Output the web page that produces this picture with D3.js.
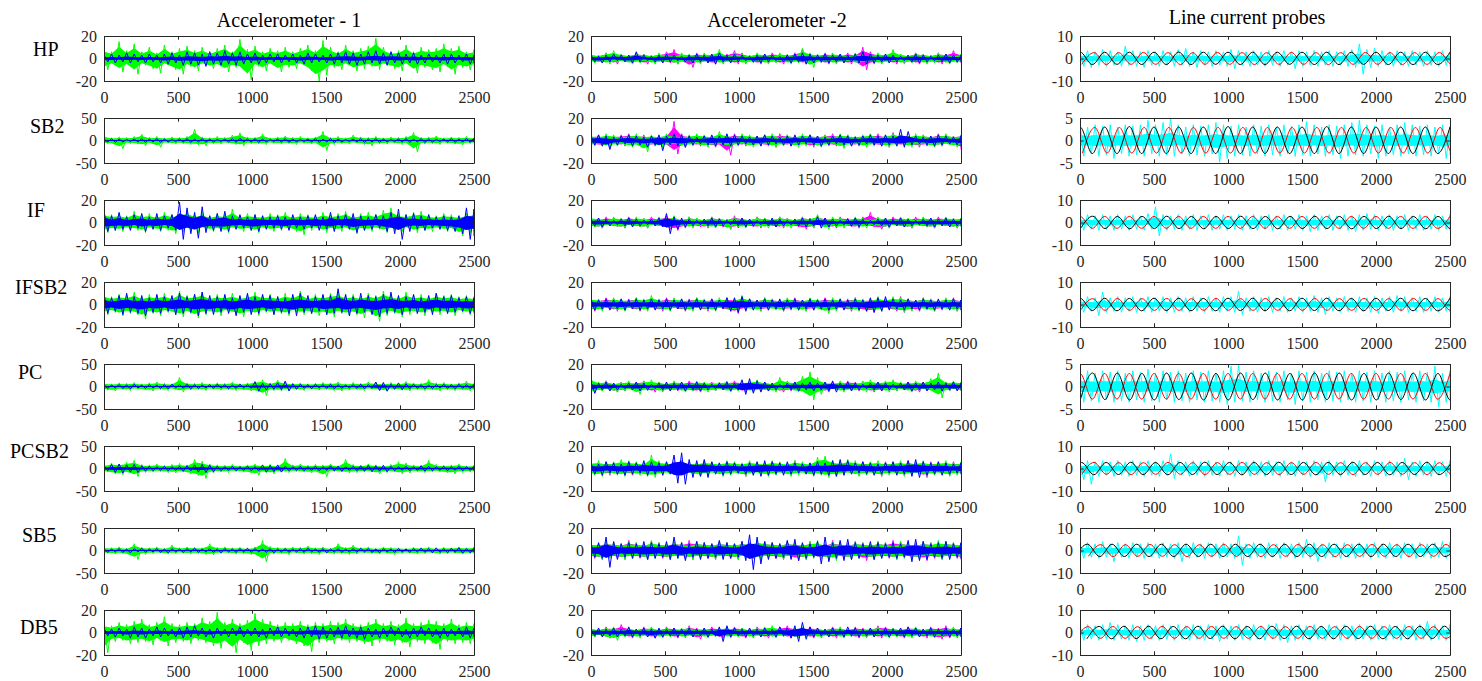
<!DOCTYPE html>
<html>
<head>
<meta charset="utf-8">
<script src="https://cdn.jsdelivr.net/npm/d3@7"></script>
<style>
body { margin: 0; background: #fff; }
svg { display: block; font-family: "Liberation Serif", "Times New Roman", serif; }
</style>
</head>
<body>
<svg width="1482" height="681"></svg>
<script>
// ---- labels and ticks
var rowNames = ["HP", "SB2", "IF", "IFSB2", "PC", "PCSB2", "SB5", "DB5"];
var colTitles = ["Accelerometer - 1", "Accelerometer -2", "Line current probes"];
var xTicks = [0, 500, 1000, 1500, 2000, 2500];
var yLimAcc1 = [20, 50, 20, 20, 50, 50, 50, 20];
var yLimAcc2 = [20, 20, 20, 20, 20, 20, 20, 20];
var yLimLine = [10, 5, 10, 10, 5, 10, 10, 10];

// ---- Accelerometer 1 : upper / lower envelope of each trace (50 bins over 2500 samples, magenta 25 bins)
var a1HPgHi = [9,6,15,7,13,6,10,5,12,6, 9,11,7,10,6,9,12,6,17,8, 11,6,9,7,10,6,9,12,7,16, 10,6,12,7,9,11,18,10,6,7, 12,6,10,8,9,13,9,11,6,8];
var a1HPgLo = [-10,-6,-12,-7,-14,-6,-9,-13,-6,-10, -14,-7,-11,-6,-9,-7,-12,-8,-10,-19, -7,-11,-6,-12,-8,-9,-6,-11,-20,-15, -8,-10,-6,-11,-9,-7,-10,-6,-9,-11, -6,-13,-8,-10,-12,-7,-14,-8,-10,-7];
var a1HPbHi = [3,4,3,5,4,3,4,3,4,5, 3,6,5,4,6,5,7,5,6,4, 5,3,4,4,3,4,3,5,4,3, 4,5,6,5,4,6,7,5,6,5, 4,5,3,4,3,4,4,3,4,3];
var a1HPbLo = [-3,-4,-3,-4,-3,-4,-3,-4,-5,-4, -6,-5,-6,-7,-5,-6,-5,-6,-5,-4, -5,-4,-3,-4,-3,-4,-5,-4,-3,-4, -5,-4,-5,-6,-5,-4,-5,-6,-4,-5, -4,-5,-4,-3,-4,-5,-4,-3,-5,-4];
var a1HPmHi = [1,2,1,2,1,1,2,1,2,1, 1,2,1,2,1,1,2,1,1,2, 1,2,1,1,2];
var a1HPmLo = [-1,-2,-1,-1,-2,-1,-2,-1,-1,-2, -1,-1,-2,-1,-1,-2,-1,-2,-1,-1, -2,-1,-1,-2,-1];

var a1SB2gHi = [12,6,8,7,9,14,7,9,6,8, 7,9,25,8,6,9,7,12,17,8, 7,15,6,8,10,7,9,6,8,20, 7,9,6,12,8,7,9,6,8,7, 9,18,7,8,10,6,8,7,9,6];
var a1SB2gLo = [-7,-9,-18,-7,-8,-12,-7,-15,-6,-8, -7,-9,-10,-12,-7,-8,-6,-9,-12,-7, -8,-9,-6,-8,-7,-9,-6,-8,-7,-22, -9,-7,-8,-6,-9,-12,-7,-8,-6,-9, -7,-25,-8,-7,-9,-6,-8,-10,-7,-6];
var a1SB2bHi = [3,4,3,2,3,4,3,4,3,2, 3,4,3,4,3,2,3,4,5,3, 4,3,2,3,4,3,2,3,4,3, 4,3,2,3,4,3,4,3,2,3, 4,3,4,3,2,3,4,3,4,5];
var a1SB2bLo = [-3,-4,-3,-2,-3,-4,-3,-4,-3,-2, -3,-4,-3,-4,-3,-2,-3,-4,-3,-3, -4,-3,-2,-3,-4,-3,-2,-3,-4,-3, -4,-3,-2,-3,-4,-3,-4,-3,-2,-3, -4,-3,-4,-3,-2,-3,-4,-3,-4,-3];
var a1SB2mHi = [2,1,2,2,1,2,1,2,2,1, 2,1,2,2,1,2,1,2,2,1, 2,1,2,1,2];
var a1SB2mLo = [-2,-1,-2,-1,-2,-2,-1,-2,-1,-2, -2,-1,-2,-1,-2,-2,-1,-2,-1,-2, -1,-2,-1,-2,-1];

var a1IFgHi = [9,7,8,6,10,7,8,6,9,7, 8,11,7,9,6,8,7,12,6,8, 7,6,8,7,9,6,8,7,6,9, 7,8,10,6,8,9,7,11,13,8, 7,9,10,7,6,8,7,6,8,9];
var a1IFgLo = [-9,-7,-8,-6,-7,-9,-6,-8,-7,-10, -8,-7,-9,-6,-8,-7,-9,-6,-8,-7, -9,-6,-8,-7,-6,-8,-11,-7,-6,-9, -7,-8,-6,-10,-7,-8,-6,-9,-7,-8, -6,-9,-7,-8,-6,-8,-7,-12,-9,-8];
var a1IFbHi = [10,6,9,5,7,8,5,8,6,7, 18,13,9,14,6,8,10,6,7,5, 7,6,5,6,5,7,5,6,7,5, 9,6,7,8,6,5,7,6,9,12, 7,8,6,7,5,6,5,6,13,12];
var a1IFbLo = [-8,-7,-6,-7,-5,-8,-6,-7,-5,-7, -15,-10,-14,-9,-7,-8,-8,-6,-5,-7, -8,-6,-5,-6,-7,-5,-6,-5,-7,-6, -8,-5,-6,-9,-7,-6,-5,-8,-10,-15, -8,-6,-7,-5,-6,-7,-8,-10,-15,-12];
var a1IFmHi = [1,2,1,1,2,1,2,1,1,2, 1,2,1,1,2,1,2,1,1,2, 1,1,2,1,2];
var a1IFmLo = [-1,-1,-2,-1,-2,-1,-1,-2,-1,-1, -2,-1,-2,-1,-1,-2,-1,-1,-2,-1, -2,-1,-1,-2,-1];

var a1IFSB2gHi = [10,7,9,8,11,7,9,8,10,7, 12,8,9,11,7,9,8,10,7,9, 11,8,9,7,10,8,12,7,9,8, 10,11,8,9,7,10,8,12,9,7, 11,8,9,7,10,8,9,7,8,7];
var a1IFSB2gLo = [-9,-7,-10,-8,-9,-13,-8,-10,-7,-9, -11,-8,-12,-9,-8,-10,-7,-9,-11,-8, -10,-7,-9,-8,-10,-7,-9,-8,-10,-9, -11,-8,-10,-9,-12,-8,-15,-10,-8,-11, -9,-8,-10,-7,-9,-8,-10,-7,-9,-8];
var a1IFSB2bHi = [9,6,8,10,7,8,6,9,7,8, 10,7,9,11,8,7,9,6,8,10, 7,9,8,7,6,9,10,8,7,9, 8,14,9,7,10,8,7,9,11,8, 7,9,6,8,10,7,8,6,7,6];
var a1IFSB2bLo = [-8,-6,-9,-7,-8,-10,-7,-8,-6,-9, -8,-7,-10,-8,-9,-7,-8,-10,-7,-9, -8,-6,-9,-7,-8,-10,-7,-8,-6,-9, -8,-7,-10,-8,-7,-9,-11,-8,-7,-9, -6,-8,-7,-9,-6,-8,-7,-6,-8,-7];
var a1IFSB2mHi = [2,1,2,1,1,2,1,2,2,1, 1,2,1,2,1,2,1,1,2,1, 2,1,2,1,2];
var a1IFSB2mLo = [-1,-2,-1,-2,-1,-1,-2,-1,-2,-1, -2,-1,-1,-2,-1,-2,-1,-2,-1,-1, -2,-1,-2,-1,-1];

var a1PCgHi = [9,6,8,7,9,6,8,10,7,6, 20,8,7,9,6,8,7,10,6,8, 12,15,8,14,9,7,8,6,7,9, 8,10,6,9,7,10,8,7,9,6, 11,8,7,15,8,9,6,8,12,7];
var a1PCgLo = [-8,-10,-7,-9,-6,-8,-10,-7,-9,-6, -12,-8,-7,-9,-6,-8,-7,-9,-8,-10, -12,-20,-9,-10,-8,-7,-9,-6,-8,-7, -9,-10,-8,-7,-9,-6,-8,-11,-7,-8, -10,-7,-9,-8,-10,-7,-9,-8,-10,-8];
var a1PCbHi = [4,3,4,3,5,3,4,3,4,5, 4,5,4,3,4,5,4,3,5,4, 10,7,6,8,12,6,5,4,5,4, 5,4,3,4,5,4,10,9,5,8, 6,5,4,3,4,5,4,5,4,5];
var a1PCbLo = [-4,-3,-4,-5,-3,-4,-3,-4,-5,-3, -4,-5,-4,-3,-4,-3,-5,-4,-3,-4, -10,-8,-6,-7,-10,-6,-4,-5,-3,-4, -5,-4,-3,-4,-5,-4,-9,-10,-6,-7, -5,-4,-5,-4,-3,-4,-5,-4,-5,-4];
var a1PCmHi = [2,1,2,2,1,2,1,2,1,2, 2,1,2,1,2,2,1,2,1,2, 1,2,2,1,2];
var a1PCmLo = [-2,-1,-2,-1,-2,-2,-1,-2,-2,-1, -2,-1,-2,-2,-1,-2,-1,-2,-2,-1, -2,-1,-2,-1,-2];

var a1PCSB2gHi = [9,12,10,14,18,9,8,10,7,9, 11,8,20,16,10,8,7,9,6,8, 10,7,9,6,22,8,10,7,9,8, 10,6,20,9,7,10,8,6,9,15, 12,8,7,18,9,7,8,10,6,7];
var a1PCSB2gLo = [-8,-12,-14,-10,-18,-9,-8,-7,-9,-10, -8,-12,-16,-22,-10,-8,-9,-7,-8,-10, -15,-9,-12,-8,-9,-7,-8,-10,-9,-18, -7,-8,-10,-9,-8,-7,-12,-9,-8,-12, -10,-7,-9,-8,-7,-10,-12,-9,-8,-7];
var a1PCSB2bHi = [6,9,10,8,9,6,5,4,5,4, 5,6,8,9,7,5,4,5,4,5, 4,8,7,8,5,4,5,4,5,4, 6,5,4,5,6,7,6,7,5,4, 5,4,6,5,4,5,4,5,4,5];
var a1PCSB2bLo = [-5,-9,-10,-8,-9,-6,-5,-4,-5,-4, -6,-5,-8,-9,-7,-5,-4,-5,-4,-5, -5,-8,-7,-8,-5,-4,-5,-4,-5,-4, -5,-6,-4,-5,-6,-7,-6,-7,-5,-4, -5,-4,-6,-5,-4,-5,-4,-5,-4,-5];
var a1PCSB2mHi = [2,1,2,1,2,2,1,2,1,2, 1,2,2,1,2,1,2,1,2,2, 1,2,1,2,1];
var a1PCSB2mLo = [-1,-2,-2,-1,-2,-1,-2,-2,-1,-2, -1,-2,-1,-2,-2,-1,-2,-1,-2,-1, -2,-2,-1,-2,-1];

var a1SB5gHi = [7,6,8,5,15,7,6,8,5,12, 6,8,7,6,15,7,8,6,7,5, 8,22,9,7,6,8,7,10,6,8, 5,15,7,12,6,8,5,8,7,6, 5,7,6,8,5,7,6,8,6,8];
var a1SB5gLo = [-6,-8,-7,-10,-20,-9,-7,-6,-8,-7, -6,-8,-7,-9,-10,-7,-6,-8,-7,-9, -12,-25,-8,-7,-9,-6,-8,-7,-9,-6, -8,-7,-9,-8,-6,-7,-8,-6,-9,-7, -6,-8,-7,-6,-8,-7,-6,-8,-7,-6];
var a1SB5bHi = [4,3,4,3,4,5,3,4,3,4, 3,4,5,3,4,3,4,3,4,5, 4,3,4,3,4,3,4,5,3,4, 3,4,3,4,5,4,3,4,3,4, 3,4,5,4,6,4,5,6,4,5];
var a1SB5bLo = [-4,-3,-4,-5,-3,-4,-3,-4,-5,-3, -4,-3,-4,-3,-4,-5,-3,-4,-3,-4, -3,-4,-5,-3,-4,-3,-4,-3,-4,-5, -3,-4,-3,-4,-3,-4,-5,-3,-4,-3, -4,-3,-4,-5,-4,-5,-4,-6,-5,-4];
var a1SB5mHi = [2,1,2,2,1,2,1,2,1,2, 2,1,2,1,2,1,2,2,1,2, 1,2,1,2,2];
var a1SB5mLo = [-2,-1,-2,-1,-2,-1,-2,-2,-1,-2, -1,-2,-1,-2,-2,-1,-2,-1,-2,-1, -2,-1,-2,-1,-2];

var a1DB5gHi = [8,6,9,7,10,12,7,9,14,8, 7,9,8,13,10,18,9,12,8,11, 17,12,10,7,9,8,10,7,9,8, 10,9,12,8,7,9,12,8,10,7, 13,8,9,11,10,8,12,7,9,8];
var a1DB5gLo = [-18,-8,-7,-10,-9,-8,-11,-7,-12,-9, -8,-10,-7,-9,-12,-14,-10,-18,-9,-16, -12,-10,-8,-9,-7,-10,-12,-17,-9,-8, -10,-7,-9,-8,-10,-12,-9,-8,-11,-9, -13,-8,-10,-9,-15,-8,-10,-9,-10,-8];
var a1DB5bHi = [4,3,4,3,5,4,3,5,4,3, 4,5,6,4,3,4,3,4,5,3, 4,3,4,5,4,3,4,5,6,5, 4,5,6,4,5,4,3,4,5,4, 3,4,5,4,3,4,3,4,5,4];
var a1DB5bLo = [-3,-4,-3,-5,-4,-5,-3,-4,-3,-4, -5,-4,-3,-4,-5,-3,-4,-3,-4,-3, -4,-5,-3,-4,-3,-4,-5,-4,-6,-5, -4,-5,-4,-5,-6,-4,-5,-4,-3,-4, -5,-4,-3,-4,-5,-4,-3,-4,-5,-4];
var a1DB5mHi = [1,2,1,2,1,2,2,1,2,1, 2,1,1,2,1,2,1,2,1,1, 2,1,2,1,2];
var a1DB5mLo = [-2,-1,-2,-1,-1,-2,-1,-2,-1,-2, -1,-1,-2,-1,-2,-1,-2,-1,-2,-1, -1,-2,-1,-2,-1];

// ---- Accelerometer 2 : envelopes (50 bins)
var a2HPmHi = [4,3,5,3,4,3,5,4,3,4, 6,8,4,3,5,4,3,5,4,7, 5,3,4,3,5,4,3,5,8,4, 3,5,4,3,5,4,10,6,4,3, 5,4,3,5,4,3,5,4,7,4];
var a2HPmLo = [-3,-4,-3,-5,-3,-4,-3,-5,-4,-3, -4,-5,-3,-8,-4,-3,-5,-4,-3,-5, -4,-3,-5,-4,-3,-5,-4,-3,-5,-4, -3,-5,-4,-3,-5,-4,-10,-5,-4,-3, -5,-4,-3,-5,-4,-3,-5,-4,-3,-4];
var a2HPgHi = [4,3,5,7,4,3,5,4,3,5, 4,3,5,4,3,5,4,8,3,5, 4,3,5,4,3,5,4,3,9,5, 4,3,5,4,3,5,4,3,5,4, 8,4,3,5,4,3,5,4,3,4];
var a2HPgLo = [-4,-3,-5,-4,-3,-5,-4,-3,-5,-4, -3,-5,-4,-3,-5,-4,-3,-5,-4,-3, -5,-4,-3,-5,-4,-3,-5,-4,-3,-8, -4,-3,-5,-4,-3,-5,-4,-3,-5,-4, -3,-5,-4,-3,-5,-4,-3,-5,-4,-3];
var a2HPbHi = [3,2,3,4,3,3,6,3,2,3, 4,3,2,3,4,3,4,5,3,4, 3,2,3,4,3,2,3,4,5,4, 3,4,3,4,3,4,6,4,3,4, 3,2,3,4,3,2,3,4,3,3];
var a2HPbLo = [-3,-4,-3,-2,-3,-4,-3,-2,-3,-4, -3,-2,-3,-4,-3,-4,-5,-3,-4,-3, -2,-3,-4,-3,-2,-3,-4,-3,-5,-4, -3,-4,-3,-4,-3,-4,-5,-4,-3,-4, -3,-2,-3,-4,-3,-2,-3,-4,-3,-3];

var a2SB2mHi = [4,5,3,4,5,6,4,5,3,4, 5,17,6,4,5,3,4,5,4,6, 5,4,3,5,4,6,5,4,3,5, 4,5,6,4,5,3,4,5,6,4, 7,5,4,3,5,4,6,5,4,5];
var a2SB2mLo = [-4,-5,-6,-4,-5,-3,-4,-6,-5,-4, -5,-12,-6,-4,-5,-4,-6,-5,-13,-4, -5,-3,-4,-5,-6,-4,-5,-3,-4,-6, -5,-4,-5,-6,-4,-5,-3,-4,-5,-6, -4,-5,-4,-6,-5,-4,-5,-3,-4,-8];
var a2SB2gHi = [5,4,6,5,4,5,6,4,5,4, 6,5,4,5,6,5,4,8,5,4, 6,5,4,5,6,4,5,4,6,5, 4,5,4,6,5,4,5,6,4,5, 6,5,4,6,5,4,5,6,4,5];
var a2SB2gLo = [-5,-4,-6,-5,-4,-6,-5,-10,-4,-6, -5,-4,-6,-5,-4,-6,-5,-4,-6,-5, -4,-6,-5,-4,-6,-5,-4,-6,-5,-4, -6,-5,-4,-7,-5,-4,-6,-5,-4,-6, -5,-4,-6,-5,-4,-6,-5,-4,-6,-5];
var a2SB2bHi = [4,5,4,3,4,5,4,3,4,5, 4,6,5,4,3,4,5,4,6,5, 4,3,4,5,4,3,4,5,4,5, 4,3,4,5,4,3,4,5,4,5, 4,10,8,4,3,4,5,4,3,4];
var a2SB2bLo = [-4,-5,-8,-4,-3,-5,-4,-6,-4,-9, -4,-5,-6,-4,-3,-4,-5,-4,-5,-4, -3,-4,-5,-4,-3,-4,-5,-4,-3,-4, -5,-4,-3,-4,-5,-4,-3,-4,-5,-4, -5,-6,-4,-3,-4,-5,-4,-3,-4,-5];

var a2IFmHi = [4,3,5,4,3,5,4,3,5,4, 6,4,3,5,4,3,5,4,3,6, 4,3,5,4,3,5,4,3,5,4, 6,4,3,5,4,3,5,9,4,3, 5,4,3,5,4,3,5,4,3,4];
var a2IFmLo = [-4,-5,-3,-4,-5,-3,-4,-5,-3,-4, -6,-7,-5,-3,-4,-5,-3,-4,-6,-5, -3,-4,-5,-3,-4,-5,-3,-4,-6,-5, -3,-4,-5,-3,-4,-5,-3,-4,-6,-5, -3,-4,-5,-3,-4,-5,-3,-4,-5,-3];
var a2IFgHi = [5,4,3,5,4,3,5,4,3,5, 4,6,3,5,4,3,5,4,3,5, 4,3,5,4,3,5,4,3,5,4, 7,3,5,4,3,5,4,3,5,4, 3,5,4,3,5,4,3,5,4,4];
var a2IFgLo = [-4,-5,-3,-4,-5,-3,-4,-5,-3,-4, -5,-3,-4,-5,-3,-4,-5,-3,-6,-4, -5,-3,-4,-5,-3,-4,-5,-3,-4,-5, -3,-6,-4,-5,-3,-4,-5,-3,-4,-5, -3,-4,-5,-3,-4,-5,-3,-4,-5,-4];
var a2IFbHi = [3,4,3,2,3,4,3,2,3,4, 8,5,4,3,2,3,4,3,2,3, 4,3,2,3,4,3,2,3,4,3, 5,4,3,2,3,4,3,2,3,4, 3,4,3,2,3,4,3,4,3,3];
var a2IFbLo = [-3,-4,-3,-2,-3,-4,-3,-2,-3,-4, -10,-6,-4,-3,-2,-3,-4,-3,-2,-3, -4,-3,-2,-3,-4,-3,-2,-3,-4,-3, -5,-4,-3,-2,-3,-4,-3,-2,-3,-4, -3,-4,-3,-2,-3,-4,-3,-4,-3,-3];

var a2IFSB2mHi = [5,4,6,5,4,5,6,4,5,4, 6,5,4,5,6,4,5,4,6,5, 7,5,4,6,5,4,5,6,4,5, 4,6,5,4,5,6,4,5,6,5, 4,7,5,4,6,5,4,5,6,4];
var a2IFSB2mLo = [-6,-5,-4,-6,-5,-4,-6,-5,-4,-6, -5,-4,-6,-5,-4,-6,-5,-4,-6,-8, -5,-4,-6,-5,-4,-6,-5,-4,-6,-5, -4,-6,-5,-4,-6,-5,-6,-7,-5,-4, -6,-7,-5,-6,-4,-6,-5,-4,-6,-5];
var a2IFSB2gHi = [6,5,4,6,5,4,6,5,8,5, 4,6,5,4,6,5,4,6,5,4, 8,5,4,6,5,4,6,5,4,6, 5,4,6,5,4,6,5,4,7,5, 7,6,5,4,6,5,4,6,5,4];
var a2IFSB2gLo = [-5,-6,-4,-5,-6,-4,-5,-6,-4,-5, -6,-4,-5,-6,-4,-5,-6,-4,-5,-6, -4,-5,-6,-4,-5,-6,-4,-5,-6,-4, -5,-8,-6,-4,-5,-6,-4,-5,-6,-4, -5,-7,-6,-4,-5,-6,-4,-5,-6,-5];
var a2IFSB2bHi = [5,4,5,4,5,4,5,4,5,4, 5,4,5,4,5,4,5,4,6,6, 7,5,4,5,4,5,4,5,4,5, 4,5,4,5,4,5,4,6,6,7, 5,4,5,4,5,4,5,4,5,4];
var a2IFSB2bLo = [-5,-4,-5,-4,-5,-4,-5,-4,-5,-4, -5,-4,-5,-4,-5,-4,-5,-4,-6,-7, -6,-5,-4,-5,-4,-5,-4,-5,-4,-5, -4,-5,-4,-5,-4,-5,-6,-7,-6,-5, -4,-5,-4,-5,-4,-5,-4,-5,-4,-5];

var a2PCmHi = [4,3,5,3,4,3,4,5,3,4, 3,4,3,5,4,3,4,3,4,5, 4,3,5,4,3,4,3,4,5,3, 4,3,4,3,5,4,3,4,3,4, 5,3,4,3,4,3,5,4,3,4];
var a2PCmLo = [-3,-4,-3,-5,-4,-3,-4,-3,-5,-4, -3,-4,-3,-4,-5,-3,-4,-3,-4,-3, -5,-4,-3,-4,-3,-5,-4,-3,-4,-3, -4,-5,-3,-4,-3,-4,-3,-5,-4,-3, -4,-3,-4,-5,-3,-4,-3,-4,-3,-4];
var a2PCgHi = [8,4,5,3,4,5,3,5,6,4, 3,5,4,3,5,4,3,4,5,3, 4,5,6,4,3,8,5,4,9,13, 8,4,3,5,4,3,5,6,4,5, 6,4,3,5,4,7,12,4,5,4];
var a2PCgLo = [-6,-4,-3,-5,-4,-3,-7,-4,-3,-5, -4,-3,-5,-4,-3,-5,-4,-3,-5,-4, -3,-5,-4,-3,-5,-4,-3,-5,-6,-12, -7,-4,-3,-5,-4,-3,-5,-4,-3,-5, -4,-3,-5,-4,-3,-5,-10,-4,-3,-4];
var a2PCbHi = [4,3,4,3,2,3,4,3,2,3, 4,3,4,3,4,3,2,3,4,3, 6,7,5,4,3,2,3,4,3,4, 3,4,5,3,4,3,2,3,4,3, 2,3,4,3,4,3,4,3,4,3];
var a2PCbLo = [-6,-3,-4,-3,-2,-3,-4,-3,-2,-3, -4,-3,-4,-3,-4,-3,-2,-3,-4,-3, -7,-6,-5,-4,-3,-2,-3,-4,-3,-4, -3,-4,-5,-3,-4,-3,-2,-3,-4,-3, -2,-3,-4,-3,-4,-3,-4,-3,-4,-3];

var a2PCSB2mHi = [5,4,6,5,4,6,5,4,7,5, 4,6,7,5,4,6,5,4,6,5, 4,6,5,4,6,5,4,7,5,4, 6,5,4,6,5,4,6,5,4,6, 5,4,7,5,4,6,5,4,6,5];
var a2PCSB2mLo = [-5,-4,-6,-5,-4,-6,-5,-4,-6,-5, -4,-6,-5,-4,-6,-5,-4,-6,-5,-4, -7,-5,-4,-6,-5,-4,-6,-5,-4,-6, -5,-4,-6,-5,-4,-6,-5,-4,-7,-5, -4,-6,-5,-4,-8,-5,-4,-6,-5,-4];
var a2PCSB2gHi = [6,7,5,6,8,7,6,5,12,7, 6,5,7,6,5,7,6,5,7,6, 5,7,6,5,7,6,5,7,6,5, 10,11,7,6,8,7,5,6,7,5, 6,7,5,6,7,5,6,7,5,6];
var a2PCSB2gLo = [-6,-7,-5,-6,-7,-5,-6,-7,-8,-6, -5,-7,-6,-5,-7,-6,-5,-7,-6,-5, -7,-6,-5,-7,-6,-5,-7,-6,-5,-7, -6,-8,-7,-6,-5,-7,-6,-5,-7,-6, -5,-7,-6,-5,-7,-6,-5,-7,-6,-5];
var a2PCSB2bHi = [5,4,6,5,4,6,5,7,6,5, 6,12,14,8,7,8,6,5,6,5, 4,5,6,7,6,5,6,5,4,5, 6,5,7,8,7,5,6,5,4,5, 6,5,7,8,6,5,6,5,4,5];
var a2PCSB2bLo = [-5,-6,-4,-5,-6,-5,-4,-6,-5,-6, -5,-13,-14,-8,-7,-8,-5,-6,-5,-4, -5,-6,-7,-6,-5,-6,-5,-4,-5,-6, -5,-6,-7,-6,-5,-4,-5,-6,-5,-4, -6,-5,-7,-8,-6,-5,-6,-5,-4,-5];

var a2SB5mHi = [7,6,8,7,6,9,7,6,8,7, 6,8,7,9,8,7,6,8,7,6, 8,7,6,8,7,6,8,7,6,8, 7,6,9,7,6,8,7,6,8,7, 9,8,7,6,8,7,6,8,7,6];
var a2SB5mLo = [-7,-8,-6,-7,-8,-6,-7,-8,-6,-7, -8,-6,-7,-8,-6,-7,-8,-6,-7,-8, -6,-7,-8,-6,-7,-8,-6,-9,-8,-6, -7,-8,-6,-7,-8,-6,-9,-8,-6,-7, -8,-6,-7,-8,-9,-7,-8,-6,-7,-8];
var a2SB5gHi = [7,6,8,7,6,8,7,6,9,7, 6,8,7,6,8,7,6,8,7,6, 8,7,10,8,7,6,8,7,6,8, 9,6,8,7,6,8,7,6,8,7, 6,8,7,6,8,7,9,8,7,6];
var a2SB5gLo = [-6,-8,-7,-6,-8,-7,-6,-8,-7,-6, -8,-7,-6,-8,-7,-6,-8,-7,-6,-8, -7,-6,-8,-7,-6,-8,-7,-6,-8,-7, -6,-8,-9,-6,-8,-7,-6,-8,-7,-6, -8,-7,-6,-8,-7,-6,-8,-7,-6,-7];
var a2SB5bHi = [6,7,12,8,6,7,6,8,7,6, 8,12,7,6,8,7,6,9,7,6, 8,14,12,8,7,6,9,10,7,6, 8,12,7,9,10,7,6,8,7,6, 7,6,9,10,8,6,7,8,6,7];
var a2SB5bLo = [-6,-7,-15,-8,-6,-7,-6,-8,-7,-6, -8,-7,-9,-6,-8,-7,-6,-8,-7,-6, -9,-17,-12,-8,-7,-6,-8,-9,-7,-6, -12,-10,-7,-9,-8,-7,-6,-8,-7,-6, -7,-6,-10,-9,-8,-6,-7,-8,-6,-7];

var a2DB5mHi = [4,3,5,4,7,4,3,5,4,3, 5,4,3,6,4,3,5,4,3,5, 4,3,5,4,3,5,6,4,3,5, 4,3,5,4,3,5,4,3,6,5, 4,3,5,4,3,5,4,6,3,4];
var a2DB5mLo = [-4,-3,-5,-4,-3,-5,-4,-3,-5,-4, -3,-5,-4,-3,-6,-4,-3,-5,-4,-3, -5,-4,-3,-5,-4,-3,-5,-4,-3,-5, -4,-3,-5,-4,-3,-5,-4,-3,-5,-4, -3,-5,-4,-3,-5,-4,-6,-5,-4,-3];
var a2DB5gHi = [4,3,4,5,3,4,3,4,5,3, 4,3,4,5,3,4,3,4,5,3, 4,3,4,5,6,4,3,4,5,3, 4,3,4,5,3,4,3,4,5,3, 4,3,4,5,3,4,3,4,5,3];
var a2DB5gLo = [-4,-3,-5,-7,-4,-3,-5,-4,-3,-5, -4,-3,-5,-4,-3,-5,-4,-3,-5,-4, -3,-5,-4,-3,-5,-4,-3,-5,-4,-3, -5,-4,-3,-5,-4,-3,-5,-4,-3,-5, -4,-3,-5,-4,-3,-5,-4,-3,-5,-4];
var a2DB5bHi = [3,4,3,4,3,5,3,4,3,4, 3,4,3,4,3,4,3,5,6,4, 3,4,3,4,3,5,4,6,9,5, 4,3,4,3,5,4,3,4,3,4, 3,4,5,4,3,4,3,4,3,4];
var a2DB5bLo = [-3,-4,-3,-4,-3,-4,-3,-4,-5,-4, -3,-4,-3,-4,-3,-4,-3,-8,-4,-3, -4,-3,-4,-3,-4,-3,-5,-8,-6,-4, -3,-4,-3,-4,-3,-4,-3,-4,-3,-4, -3,-4,-3,-4,-3,-4,-3,-4,-3,-4];

// ---- Line current probes : noisy cyan phase, envelope (50 bins)
var lcHPcHi = [3,3.5,3,4,3.5,3,5.5,3.5,3,3.5, 3,3.5,3,4,4.5,3,3.5,3,3.5,3, 4,3.5,3,3.5,3,3.5,3,3.5,3,3.5, 3,3.5,3,3.5,3,3.5,4,6.5,4,4.5, 3.5,3,3.5,3,3.5,3,3.5,3,3.5,3];
var lcHPcLo = [-3.5,-4,-3,-3.5,-3,-3.5,-3,-3.5,-4,-3, -3.5,-3,-3.5,-3,-3.5,-4,-3,-3.5,-3,-3.5, -4.5,-3,-3.5,-3,-3.5,-3,-3.5,-3,-4.5,-3.5, -3,-3.5,-3,-3.5,-3,-3.5,-4,-7,-4,-3.5, -3,-3.5,-3,-3.5,-3,-3.5,-3,-3.5,-3,-3.5];
var lcSB2cHi = [3.5,3,3.5,3.2,3.5,3,3.5,3.2,3.5,4.5, 3.5,4,5,3.5,3,3.5,3.2,3.5,4,3.5, 3.2,3.5,3,3.5,3.2,3.5,3,3.5,3.2,3.5, 4.2,3.5,3,3.5,3.2,3.5,4,4.5,3.5,3.2, 3.5,3,3.5,4,3.5,3.2,3.5,3,3.5,3.2];
var lcSB2cLo = [-3.5,-3,-3.5,-3.2,-4,-3,-3.5,-3.2,-3.5,-3, -3.5,-3.2,-3.5,-3,-3.5,-3.2,-3.5,-3,-4.8,-4, -3.5,-3.2,-3.5,-3,-3.5,-3.2,-3.5,-3,-3.5,-3.2, -3.5,-3,-3.5,-3.2,-4,-3.5,-3.2,-3.5,-3,-4, -3.5,-3.2,-3.5,-3,-3.5,-3.2,-3.5,-3,-4,-3.2];
var lcIFcHi = [3,3.5,3,3.5,3,3.5,3,3.5,3,4, 7,3.5,3,3.5,3,3.5,3,3.5,3,3.5, 3,3.5,3,3.5,3,3.5,3,3.5,3,3.5, 3,3.5,3,3.5,3,3.5,3,3.5,4,3.5, 3,3.5,3,3.5,3,3.5,3,3.5,3,3.5];
var lcIFcLo = [-3.5,-3,-3.5,-3,-3.5,-3,-3.5,-3,-3.5,-3, -6,-3.5,-3,-3.5,-3,-3.5,-3,-3.5,-3,-3.5, -3,-3.5,-3,-3.5,-3,-3.5,-3,-3.5,-3,-3.5, -4,-3.5,-3,-3.5,-3,-3.5,-4,-3.5,-3,-3.5, -3,-3.5,-3,-3.5,-3,-3.5,-3,-3.5,-3,-3.5];
var lcIFSB2cHi = [3,3.5,3,5.5,3,3.5,3,3.5,3,3.5, 3,3.5,3,3.5,3,3.5,3,3.5,3,3.5, 3.5,6,3,3.5,3,3.5,3,3.5,3,3.5, 3,4,3,3.5,3,3.5,3,3.5,3,3.5, 3,3.5,4,3.5,3,3.5,3,3.5,3,3.5];
var lcIFSB2cLo = [-3.5,-3,-5,-3.5,-3,-3.5,-3,-3.5,-3,-3.5, -3,-3.5,-3.5,-3,-3.5,-3,-3.5,-3,-3.5,-3, -3.5,-4.5,-3,-3.5,-3,-3.5,-3,-3.5,-3,-3.5, -3,-3.5,-4.5,-3,-3.5,-3,-3.5,-3,-3.5,-4, -3,-3.5,-3,-3.5,-3,-3.5,-3,-3.5,-3,-3.5];
var lcPCcHi = [3.2,3.5,3,3.5,3.2,3.5,3,3.5,3.2,3.8, 3,3.5,3.2,3.5,3,3.5,3.2,3.5,3,3.5, 4.5,4.8,3.2,3.5,3,3.5,3.2,3.5,3,3.5, 3.2,3.5,3,3.5,3.2,3.5,3,3.5,3.2,3.5, 3,3.5,3.2,3.5,3,3.5,3.2,4.5,3,3.5];
var lcPCcLo = [-3.5,-3.2,-3.5,-3,-3.5,-3.2,-3.5,-3,-3.5,-3.2, -3.5,-3,-3.5,-3.2,-3.5,-3,-3.5,-3.2,-3.5,-4, -3.5,-3.2,-3.5,-3,-3.5,-3.2,-3.5,-3,-4,-3.2, -3.5,-3,-3.5,-3.2,-3.5,-3,-3.5,-3.2,-3.5,-3, -3.5,-3.2,-3.5,-3,-3.5,-3.2,-3.5,-4.5,-3.5,-3.2];
var lcPCSB2cHi = [3,3.5,3,3.5,3,3.5,3,3.5,3,3.5, 3,3.5,6.5,3.5,3,3.5,3,3.5,3,3.5, 3,3.5,3,3.5,3,3.5,3,3.5,3,3.5, 3,3.5,3,3.5,3,3.5,3,3.5,3,3.5, 3,3.5,3,4.5,3,3.5,3,3.5,3,3.5];
var lcPCSB2cLo = [-5,-7,-3.5,-3,-3.5,-3,-3.5,-3,-3.5,-3, -3.5,-3,-4.5,-3,-3.5,-3,-3.5,-3,-3.5,-3, -3.5,-3,-3.5,-3,-3.5,-3,-3.5,-3,-3.5,-3, -3.5,-3,-6,-3,-3.5,-3,-3.5,-3,-3.5,-3, -3.5,-3,-3.5,-5,-3.5,-3,-3.5,-3,-3.5,-3];
var lcSB5cHi = [3,3.5,3,4,3,3.5,3,3.5,3,3.5, 3,3.5,3,3.5,3,3.5,3,3.5,3,3.5, 3,6.5,3,3.5,3,3.5,3,3.5,3,3.5, 5,3.5,3,3.5,3,3.5,3,3.5,3,3.5, 3,3.5,3,3.5,3,3.5,3,3.5,4,3.5];
var lcSB5cLo = [-3.5,-3,-3.5,-3,-5,-3,-3.5,-3,-3.5,-3, -3.5,-3,-3.5,-5,-3.5,-3,-3.5,-3,-3.5,-3, -3.5,-6.5,-3.5,-3,-3.5,-3,-3.5,-3,-3.5,-3, -3.5,-5,-3.5,-3,-3.5,-3,-3.5,-3,-3.5,-3, -3.5,-3,-3.5,-3,-3.5,-3,-3.5,-3,-3.5,-3];
var lcDB5cHi = [3,3.5,3,3.5,4.5,3.5,3,3.5,3,3.5, 3,3.5,3,3.5,3,3.5,3,3.5,3,3.5, 3,3.5,3,3.5,3,3.5,4,3.5,3,3.5, 3,3.5,3,3.5,3,3.5,3,3.5,3,3.5, 3,3.5,3,3.5,3,3.5,5,3.5,3,3.5];
var lcDB5cLo = [-3.5,-3,-3.5,-3,-3.5,-3,-3.5,-4,-3.5,-3, -3.5,-3,-3.5,-3,-3.5,-3,-3.5,-3,-4,-3, -3.5,-3,-3.5,-3,-3.5,-3,-3.5,-4.5,-3.5,-3, -3.5,-3,-3.5,-3,-3.5,-3,-3.5,-3,-3.5,-3, -3.5,-3,-3.5,-3,-3.5,-3,-3.5,-3,-3.5,-3];

// ---- Line current probes : successive half-cycle extremes of the two clean phases (15 cycles in 2500 samples)
var blackFirstPeak = [0, 0, 86, 0, 85, 10, 50, 130];
var redFirstPeak = [95, 100, 0, 86, 0, 95, 140, 55];

var lcHPk = [-2.7,2.9,-2.7,2.8,-2.6,2.8,-2.7,2.8,-2.7,2.9, -2.7,2.8,-2.6,2.8,-2.7,2.8,-2.7,2.8,-2.6,2.8, -2.7,2.8,-2.7,2.8,-2.6,2.8,-2.7,2.8,-2.7,2.8, -2.7,2.8];
var lcHPr = [-2.6,2.6,-2.7,2.6,-2.6,2.7,-2.6,2.6,-2.7,2.6, -2.6,2.7,-2.6,2.6,-2.7,2.6,-2.6,2.7,-2.6,2.6, -2.7,2.6,-2.6,2.7,-2.6,2.6,-2.7,2.6,-2.6,2.7, -2.6,2.6];
var lcSB2k = [-2.9,3.0,-2.9,3.0,-2.9,3.1,-2.9,3.0,-2.9,3.0, -2.9,3.0,-2.9,3.1,-2.9,3.0,-2.9,3.0,-2.9,3.0, -2.9,3.1,-2.9,3.0,-2.9,3.0,-2.9,3.0,-2.9,3.0, -2.9,3.0];
var lcSB2r = [-2.8,2.9,-2.8,2.9,-2.8,2.9,-2.8,2.9,-2.8,2.9, -2.8,2.9,-2.8,2.9,-2.8,2.9,-2.8,2.9,-2.8,2.9, -2.8,2.9,-2.8,2.9,-2.8,2.9,-2.8,2.9,-2.8,2.9, -2.8,2.9];
var lcIFk = [-2.7,2.8,-2.7,2.7,-2.8,2.7,-2.7,2.8,-2.7,2.7, -2.8,2.7,-2.7,2.8,-2.7,2.7,-2.8,2.7,-2.7,2.8, -2.7,2.7,-2.8,2.7,-2.7,2.8,-2.7,2.7,-2.8,2.7, -2.7,2.8];
var lcIFr = [-2.6,2.7,-2.6,2.7,-2.6,2.7,-2.6,2.7,-2.6,2.7, -2.6,2.7,-2.6,2.7,-2.6,2.7,-2.6,2.7,-2.6,2.7, -2.6,2.7,-2.6,2.7,-2.6,2.7,-2.6,2.7,-2.6,2.7, -2.6,2.7];
var lcIFSB2k = [-2.8,2.8,-2.7,2.8,-2.8,2.7,-2.8,2.8,-2.7,2.8, -2.8,2.7,-2.8,2.8,-2.7,2.8,-2.8,2.7,-2.8,2.8, -2.7,2.8,-2.8,2.7,-2.8,2.8,-2.7,2.8,-2.8,2.7, -2.8,2.8];
var lcIFSB2r = [-2.6,2.6,-2.6,2.7,-2.6,2.6,-2.6,2.7,-2.6,2.6, -2.6,2.7,-2.6,2.6,-2.6,2.7,-2.6,2.6,-2.6,2.7, -2.6,2.6,-2.6,2.7,-2.6,2.6,-2.6,2.7,-2.6,2.6, -2.6,2.7];
var lcPCk = [-3.0,3.0,-2.9,3.0,-3.0,2.9,-3.0,3.0,-2.9,3.0, -3.0,2.9,-3.0,3.0,-2.9,3.0,-3.0,2.9,-3.0,3.0, -2.9,3.0,-3.0,2.9,-3.0,3.0,-2.9,3.0,-3.0,2.9, -3.0,3.0];
var lcPCr = [-2.8,2.9,-2.8,2.9,-2.8,2.9,-2.8,2.9,-2.8,2.9, -2.8,2.9,-2.8,2.9,-2.8,2.9,-2.8,2.9,-2.8,2.9, -2.8,2.9,-2.8,2.9,-2.8,2.9,-2.8,2.9,-2.8,2.9, -2.8,2.9];
var lcPCSB2k = [-2.7,2.7,-2.8,2.7,-2.7,2.8,-2.7,2.7,-2.8,2.7, -2.7,2.8,-2.7,2.7,-2.8,2.7,-2.7,2.8,-2.7,2.7, -2.8,2.7,-2.7,2.8,-2.7,2.7,-2.8,2.7,-2.7,2.8, -2.7,2.7];
var lcPCSB2r = [-2.6,2.7,-2.6,2.6,-2.7,2.6,-2.6,2.7,-2.6,2.6, -2.7,2.6,-2.6,2.7,-2.6,2.6,-2.7,2.6,-2.6,2.7, -2.6,2.6,-2.7,2.6,-2.6,2.7,-2.6,2.6,-2.7,2.6, -2.6,2.7];
var lcSB5k = [-2.7,2.8,-2.7,2.8,-2.7,2.8,-2.7,2.8,-2.7,2.8, -2.7,2.8,-2.7,2.8,-2.7,2.8,-2.7,2.8,-2.7,2.8, -2.7,2.8,-2.7,2.8,-2.7,2.8,-2.7,2.8,-2.7,2.8, -2.7,2.8];
var lcSB5r = [-2.6,2.6,-2.7,2.6,-2.6,2.7,-2.6,2.6,-2.7,2.6, -2.6,2.7,-2.6,2.6,-2.7,2.6,-2.6,2.7,-2.6,2.6, -2.7,2.6,-2.6,2.7,-2.6,2.6,-2.7,2.6,-2.6,2.7, -2.6,2.6];
var lcDB5k = [-2.8,2.7,-2.8,2.8,-2.7,2.8,-2.8,2.7,-2.8,2.8, -2.7,2.8,-2.8,2.7,-2.8,2.8,-2.7,2.8,-2.8,2.7, -2.8,2.8,-2.7,2.8,-2.8,2.7,-2.8,2.8,-2.7,2.8, -2.8,2.7];
var lcDB5r = [-2.6,2.6,-2.6,2.7,-2.6,2.6,-2.6,2.7,-2.6,2.6, -2.6,2.7,-2.6,2.6,-2.6,2.7,-2.6,2.6,-2.6,2.7, -2.6,2.6,-2.6,2.7,-2.6,2.6,-2.6,2.7,-2.6,2.6, -2.6,2.7];

// ---- tables for drawing
var acc1 = [
  [[a1HPmHi,a1HPmLo],[a1HPgHi,a1HPgLo],[a1HPbHi,a1HPbLo]],
  [[a1SB2mHi,a1SB2mLo],[a1SB2gHi,a1SB2gLo],[a1SB2bHi,a1SB2bLo]],
  [[a1IFmHi,a1IFmLo],[a1IFgHi,a1IFgLo],[a1IFbHi,a1IFbLo]],
  [[a1IFSB2mHi,a1IFSB2mLo],[a1IFSB2gHi,a1IFSB2gLo],[a1IFSB2bHi,a1IFSB2bLo]],
  [[a1PCmHi,a1PCmLo],[a1PCgHi,a1PCgLo],[a1PCbHi,a1PCbLo]],
  [[a1PCSB2mHi,a1PCSB2mLo],[a1PCSB2gHi,a1PCSB2gLo],[a1PCSB2bHi,a1PCSB2bLo]],
  [[a1SB5mHi,a1SB5mLo],[a1SB5gHi,a1SB5gLo],[a1SB5bHi,a1SB5bLo]],
  [[a1DB5mHi,a1DB5mLo],[a1DB5gHi,a1DB5gLo],[a1DB5bHi,a1DB5bLo]]
];
var acc2 = [
  [[a2HPmHi,a2HPmLo],[a2HPgHi,a2HPgLo],[a2HPbHi,a2HPbLo]],
  [[a2SB2mHi,a2SB2mLo],[a2SB2gHi,a2SB2gLo],[a2SB2bHi,a2SB2bLo]],
  [[a2IFmHi,a2IFmLo],[a2IFgHi,a2IFgLo],[a2IFbHi,a2IFbLo]],
  [[a2IFSB2mHi,a2IFSB2mLo],[a2IFSB2gHi,a2IFSB2gLo],[a2IFSB2bHi,a2IFSB2bLo]],
  [[a2PCmHi,a2PCmLo],[a2PCgHi,a2PCgLo],[a2PCbHi,a2PCbLo]],
  [[a2PCSB2mHi,a2PCSB2mLo],[a2PCSB2gHi,a2PCSB2gLo],[a2PCSB2bHi,a2PCSB2bLo]],
  [[a2SB5mHi,a2SB5mLo],[a2SB5gHi,a2SB5gLo],[a2SB5bHi,a2SB5bLo]],
  [[a2DB5mHi,a2DB5mLo],[a2DB5gHi,a2DB5gLo],[a2DB5bHi,a2DB5bLo]]
];
var lines = [
  {c: [lcHPcHi, lcHPcLo], r: lcHPr, k: lcHPk},
  {c: [lcSB2cHi, lcSB2cLo], r: lcSB2r, k: lcSB2k},
  {c: [lcIFcHi, lcIFcLo], r: lcIFr, k: lcIFk},
  {c: [lcIFSB2cHi, lcIFSB2cLo], r: lcIFSB2r, k: lcIFSB2k},
  {c: [lcPCcHi, lcPCcLo], r: lcPCr, k: lcPCk},
  {c: [lcPCSB2cHi, lcPCSB2cLo], r: lcPCSB2r, k: lcPCSB2k},
  {c: [lcSB5cHi, lcSB5cLo], r: lcSB5r, k: lcSB5k},
  {c: [lcDB5cHi, lcDB5cLo], r: lcDB5r, k: lcDB5k}
];

// ---- layout and style
var svg = d3.select("svg");
var colX = [104, 591, 1080];
var plotW = 370, plotH = 45, tick = 3.7;
var rowTop = rowNames.map(function(d, i) { return 36 + 82 * i; });
var labelX = [33, 30, 27, 15, 18, 10, 22, 20];
var labelDy = [20, 15, 17, 12, 15, 12, 14, 24];
var titleX = [289, 777, 1247], titleY = [27, 27, 24];
var seriesColors = ["#ff00ff", "#00ff00", "#0000ff"];
// share of each envelope drawn as a solid core (magenta, green, blue)
var coreAcc1 = [0.6, 0.7, 0.3];
var coreAcc1BlueByRow = [0.35, 0.3, 0.45, 0.45, 0.3, 0.35, 0.3, 0.35];
var coreAcc2 = [0.7, 0.7, 0.45];
var coreCyan = 0.35;
var nSamples = 2500, halfCycle = 2500 / 30;

var x = d3.scaleLinear().domain([0, nSamples]).range([0, plotW]);

colTitles.forEach(function(t, i) {
  svg.append("text").attr("x", titleX[i]).attr("y", titleY[i])
    .attr("text-anchor", "middle").attr("font-size", 20).attr("fill", "#000").text(t);
});

rowNames.forEach(function(name, i) {
  svg.append("text").attr("x", labelX[i]).attr("y", rowTop[i] + labelDy[i])
    .attr("font-size", 20).attr("fill", "#000").text(name);
});

function panel(col, row, lim) {
  var g = svg.append("g").attr("transform", "translate(" + colX[col] + "," + rowTop[row] + ")");
  var y = d3.scaleLinear().domain([-lim, lim]).range([plotH, 0]);
  var id = "clip" + col + "_" + row;
  g.append("clipPath").attr("id", id).append("rect")
    .attr("x", 0.5).attr("y", 0.5).attr("width", plotW).attr("height", plotH);
  var data = g.append("g").attr("clip-path", "url(#" + id + ")");
  return {g: g, y: y, data: data};
}

// dense noisy trace: solid core plus a zigzag between each bin's max and min
function noise(p, hi, lo, color, share) {
  var step = nSamples / (hi.length - 1);
  if (share > 0) {
    var core = hi.map(function(h, i) { return [i * step, h * share, lo[i] * share]; });
    p.data.append("path").datum(core)
      .attr("d", d3.area().x(function(d) { return x(d[0]); })
        .y0(function(d) { return p.y(d[2]); }).y1(function(d) { return p.y(d[1]); }))
      .attr("fill", color);
  }
  var zig = [];
  hi.forEach(function(h, i) {
    zig.push([i * step, h]);
    zig.push([Math.min(i * step + step / 2, nSamples), lo[i]]);
  });
  p.data.append("path").datum(zig)
    .attr("d", d3.line().x(function(d) { return x(d[0]); }).y(function(d) { return p.y(d[1]); }))
    .attr("fill", "none").attr("stroke", color).attr("stroke-width", 1);
}

function wave(p, vals, firstPeak, color) {
  var pts = vals.map(function(v, i) { return [firstPeak - halfCycle + i * halfCycle, v]; });
  p.data.append("path").datum(pts)
    .attr("d", d3.line().x(function(d) { return x(d[0]); }).y(function(d) { return p.y(d[1]); })
      .curve(d3.curveMonotoneX))
    .attr("fill", "none").attr("stroke", color).attr("stroke-width", 1);
}

function frame(p, lim) {
  var ax = p.g.append("g");
  ax.append("g").attr("transform", "translate(0," + plotH + ")")
    .call(d3.axisBottom(x).tickValues(xTicks).tickSize(-tick).tickSizeOuter(0).tickPadding(10.5)
      .tickFormat(function(d) { return String(d); }));
  ax.append("g")
    .call(d3.axisTop(x).tickValues(xTicks).tickSize(-tick).tickSizeOuter(0).tickFormat(""));
  ax.append("g")
    .call(d3.axisLeft(p.y).tickValues([-lim, 0, lim]).tickSize(-tick).tickSizeOuter(0).tickPadding(7)
      .tickFormat(function(d) { return String(d); }));
  ax.append("g").attr("transform", "translate(" + plotW + ",0)")
    .call(d3.axisRight(p.y).tickValues([-lim, 0, lim]).tickSize(-tick).tickSizeOuter(0).tickFormat(""));
  ax.selectAll("g").attr("font-size", 16).attr("font-family", "'Liberation Serif','Times New Roman',serif");
  ax.selectAll(".domain, line").attr("stroke", "#262626");
  ax.selectAll("text").attr("fill", "#262626");
}

rowNames.forEach(function(name, r) {
  // Accelerometer 1
  var p1 = panel(0, r, yLimAcc1[r]);
  acc1[r].forEach(function(s, k) {
    noise(p1, s[0], s[1], seriesColors[k], k === 2 ? coreAcc1BlueByRow[r] : coreAcc1[k]);
  });
  frame(p1, yLimAcc1[r]);

  // Accelerometer 2
  var p2 = panel(1, r, yLimAcc2[r]);
  acc2[r].forEach(function(s, k) { noise(p2, s[0], s[1], seriesColors[k], coreAcc2[k]); });
  frame(p2, yLimAcc2[r]);

  // Line current probes
  var p3 = panel(2, r, yLimLine[r]);
  var L = lines[r];
  noise(p3, L.c[0], L.c[1], "#00ffff", coreCyan);
  wave(p3, L.r, redFirstPeak[r], "#ff0000");
  wave(p3, L.k, blackFirstPeak[r], "#000000");
  frame(p3, yLimLine[r]);
});
</script>
</body>
</html>
